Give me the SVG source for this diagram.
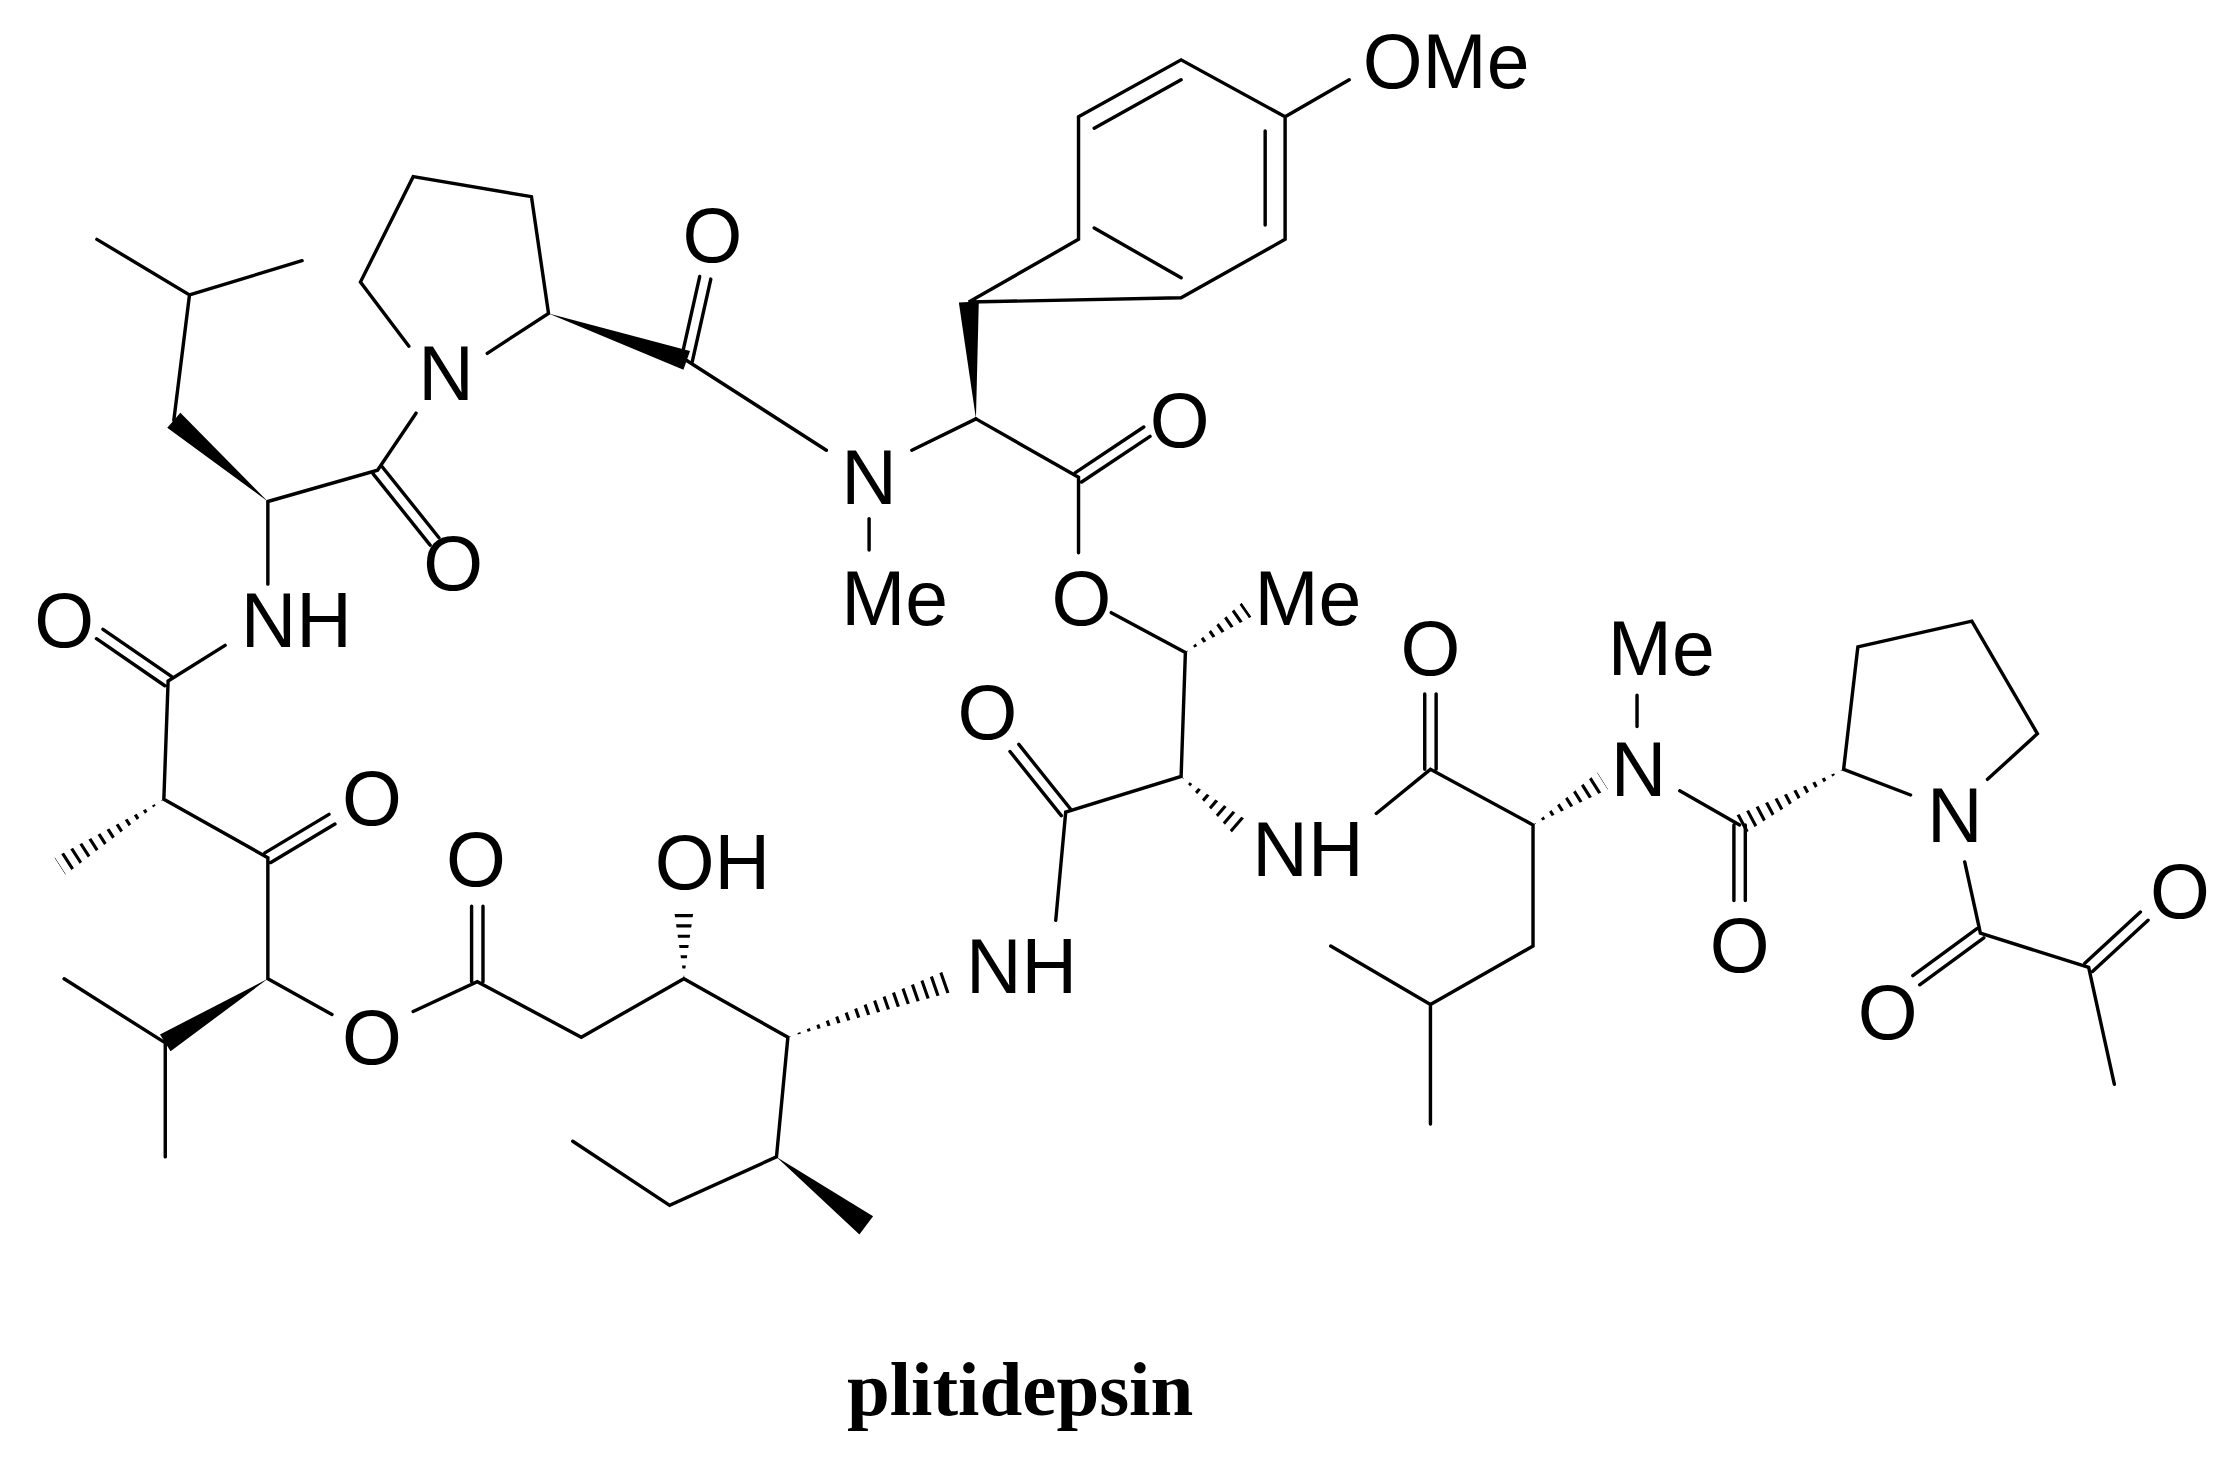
<svg xmlns="http://www.w3.org/2000/svg" width="2234" height="1463" viewBox="0 0 2234 1463">
<style>
.b{stroke:#000;stroke-width:2.4;fill:none;stroke-linecap:round}
.w{fill:#000;stroke:none}
.h{stroke:#000;stroke-width:16;stroke-dasharray:2.2 5;fill:none}
.t{font-family:"Liberation Sans",Arial,sans-serif;font-size:54px;text-anchor:middle;fill:#000}
.title{font-family:"Liberation Serif","Times New Roman",serif;font-size:54px;font-weight:bold;text-anchor:middle;fill:#000}
</style>
<defs>
<clipPath id="c1"><polygon points="832,458 878.4,432.9 871.6,423.1"/></clipPath>
<clipPath id="c2"><polygon points="829,545 867.4,587.3 876.6,576.7"/></clipPath>
<clipPath id="c3"><polygon points="1076,579 1128.7,553.9 1121.3,542.1"/></clipPath>
<clipPath id="c4"><polygon points="1294,540 1224.3,585.2 1217.7,572.8"/></clipPath>
<clipPath id="c5"><polygon points="115,561 45.8,613.9 38.2,602.1"/></clipPath>
<clipPath id="c6"><polygon points="480,687 487,638 473,638"/></clipPath>
<clipPath id="c7"><polygon points="553,728 670.6,695.6 665.4,680.4"/></clipPath>
</defs>
<rect width="2234" height="1463" fill="#fff"/>
<g transform="scale(1.42474)">
<g id="connectors">
<path class="b" d="M68,168L133,207L212,183M133,207L122,295M188,352L265,330L292,290M188,352L188,410"/>
<polygon class="w" points="188,352 126.6,289.7 117.4,300.3"/>
<path class="b" d="M261.9,332.6L301.9,382.6M268.1,327.4L308.1,377.4"/>
<path class="b" d="M287,243L253,198L290,124L373,138L385,220L342,248"/>
<polygon class="w" points="385,220 479.7,259.6 484.3,246.4"/>
<path class="b" d="M485.9,253.9L498.9,195.9M478.1,252.1L491.1,194.1"/>
<path class="b" d="M482,253L580,316M610,364L610,386M640,316L685,294"/>
<polygon class="w" points="685,294 687,211.6 673,212.4"/>
<path class="b" d="M680,212L757,168L757,82L829,42L902,82L902,168L829,209Z M768,90L829,56M888,92L888,158M829,195L768,160M902,82L947,56"/>
<path class="b" d="M685,294L757,335L757,388M759.2,338.3L807.2,306.3M754.8,331.7L802.8,299.7M780,430L832,458L829,545L748,570L741,646"/>
<line class="h" x1="832" y1="458" x2="875" y2="428" clip-path="url(#c1)"/>
<path class="b" d="M751.1,567.5L715.1,522.5M744.9,572.5L708.9,527.5"/>
<line class="h" x1="829" y1="545" x2="872" y2="582" clip-path="url(#c2)"/>
<path class="b" d="M966,571L1004,540L1076,579L1076,664L1004,705L934,664M1004,705L1004,789M1000,540L1000,487M1008,540L1008,487"/>
<line class="h" x1="1076" y1="579" x2="1125" y2="548" clip-path="url(#c3)"/>
<path class="b" d="M1149,510L1149,488M1179,555L1221,579M1217,579L1217,632M1225,579L1225,632"/>
<line class="h" x1="1294" y1="540" x2="1221" y2="579" clip-path="url(#c4)"/>
<path class="b" d="M1341,558L1294,540L1304,454L1384,436L1430,515L1395,547M1379,605L1390,655L1466,679L1484,761"/>
<path class="b" d="M1392.4,658.2L1347.4,691.2M1387.6,651.8L1342.6,684.8M1468.7,681.9L1507.7,645.9M1463.3,676.1L1502.3,640.1"/>
<path class="b" d="M158,453L118,478L115,561L188,602L188,687L233,712M120.3,474.7L72.3,441.7M115.7,481.3L67.7,448.3M190.1,605.4L235.1,578.4M185.9,598.6L230.9,571.6"/>
<line class="h" x1="115" y1="561" x2="42" y2="608" clip-path="url(#c5)"/>
<polygon class="w" points="188,687 119.7,737.9 112.3,726.1"/>
<path class="b" d="M45,687L116,732L116,812"/>
<path class="b" d="M290,710L335,689L408,728L480,687L553,728L545,812L470,846L402,801M331,689L331,636M339,689L339,636"/>
<line class="h" x1="480" y1="687" x2="480" y2="638" clip-path="url(#c6)"/>
<line class="h" x1="553" y1="728" x2="668" y2="688" clip-path="url(#c7)"/>
<polygon class="w" points="545,812 603.2,866.4 612.8,853.6"/>
</g>
<g id="labels">
<text class="t" x="313" y="281">N</text>
<text class="t" x="318" y="414">O</text>
<text class="t" x="208" y="454">NH</text>
<text class="t" x="45" y="454">O</text>
<text class="t" x="500" y="184">O</text>
<text class="t" x="610" y="354">N</text>
<text class="t" x="628" y="439">Me</text>
<text class="t" x="828" y="314">O</text>
<text class="t" x="759" y="439">O</text>
<text class="t" x="918" y="439">Me</text>
<text class="t" x="1015" y="62">OMe</text>
<text class="t" x="693" y="519">O</text>
<text class="t" x="717" y="697">NH</text>
<text class="t" x="918" y="615">NH</text>
<text class="t" x="1004" y="474">O</text>
<text class="t" x="1166" y="474">Me</text>
<text class="t" x="1150" y="559">N</text>
<text class="t" x="1221" y="682">O</text>
<text class="t" x="1372" y="591">N</text>
<text class="t" x="1325" y="729">O</text>
<text class="t" x="1530" y="644">O</text>
<text class="t" x="261" y="579">O</text>
<text class="t" x="261" y="747">O</text>
<text class="t" x="334" y="622">O</text>
<text class="t" x="500" y="624">OH</text>
</g>
<text class="title" x="716" y="993">plitidepsin</text>
</g>
</svg>
